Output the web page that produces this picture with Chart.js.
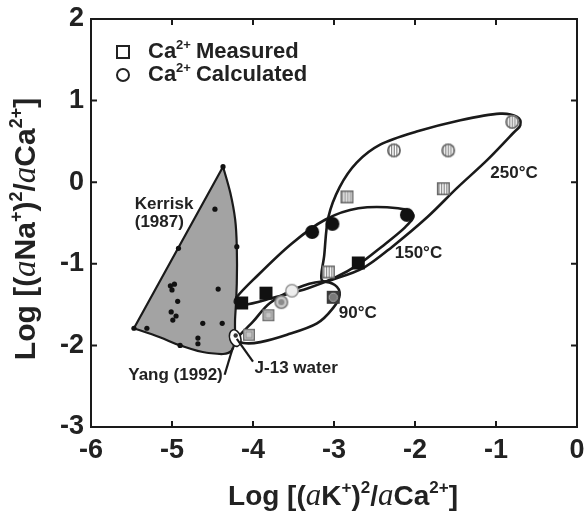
<!DOCTYPE html>
<html><head><meta charset="utf-8">
<script src="https://cdn.jsdelivr.net/npm/chart.js@4"></script>
<style>html,body{margin:0;padding:0;background:#fff}</style>
</head><body>
<canvas id="c" width="587" height="511"></canvas>
<script>
// ---- axis ticks ----
const xTicks = [-6, -5, -4, -3, -2, -1, 0];
const yTicks = [-3, -2, -1, 0, 1, 2];

// ---- measured / calculated points ----
const measured250 = [[-2.84, -0.18], [-1.65, -0.08], [-3.07, -1.10]];
const calculated250 = [[-2.26, 0.39], [-1.59, 0.39], [-0.80, 0.74]];
const measured150 = [[-2.70, -0.99], [-3.84, -1.36], [-4.14, -1.48]];
const calculated150 = [[-3.27, -0.61], [-3.02, -0.51], [-2.10, -0.40]];
const measured90 = [[-3.81, -1.63], [-4.05, -1.87], [-3.01, -1.41]];
const calculated90 = [[-3.65, -1.47], [-3.52, -1.33], [-3.01, -1.41]];

// ---- Kerrisk (1987) field ----
const kerriskBoundary = [[-4.37, 0.19], [-4.28, -0.13], [-4.22, -0.46], [-4.20, -0.79], [-4.20, -1.24],
  [-4.22, -1.65], [-4.26, -2.06], [-4.57, -2.09], [-4.90, -2.00], [-5.15, -1.90], [-5.47, -1.79]];
const kerriskDots = [[-4.37, 0.19], [-4.92, -0.81], [-4.20, -0.79], [-5.47, -1.79], [-4.90, -2.00],
  [-4.47, -0.33], [-4.43, -1.31], [-5.02, -1.27], [-4.97, -1.25], [-5.00, -1.32], [-4.93, -1.46],
  [-5.01, -1.59], [-4.95, -1.64], [-4.99, -1.69], [-4.62, -1.73], [-4.38, -1.73], [-5.31, -1.79],
  [-4.68, -1.91], [-4.68, -1.98]];
const yangPoint = [-4.22, -1.91];

// ---- temperature envelopes ----
const loop250 = [[-3.15, -1.20], [-3.12, -0.89], [-3.07, -0.43], [-2.93, -0.06], [-2.72, 0.24], [-2.43, 0.46],
  [-1.98, 0.62], [-1.44, 0.76], [-0.95, 0.84], [-0.74, 0.80], [-0.70, 0.70], [-0.79, 0.60], [-1.11, 0.27],
  [-1.48, -0.07], [-1.85, -0.43], [-2.28, -0.79], [-2.62, -1.04], [-2.95, -1.17]];
const loop150 = [[-4.22, -1.44], [-3.94, -1.14], [-3.52, -0.75], [-3.11, -0.46], [-2.70, -0.32], [-2.21, -0.32],
  [-2.02, -0.40], [-2.12, -0.55], [-2.41, -0.79], [-2.70, -1.01], [-2.99, -1.17], [-3.32, -1.30],
  [-3.73, -1.41], [-4.10, -1.50]];
const loop90 = [[-4.19, -1.91], [-4.00, -1.71], [-3.79, -1.48], [-3.46, -1.30], [-3.17, -1.22], [-2.99, -1.26],
  [-2.93, -1.38], [-3.01, -1.54], [-3.21, -1.73], [-3.58, -1.87], [-3.91, -1.96], [-4.12, -1.97]];

// ---- annotations ----
const annotations = [
  {text: 'Kerrisk', x: -5.46, y: -0.33},
  {text: '(1987)', x: -5.46, y: -0.55},
  {text: 'Yang (1992)', x: -5.54, y: -2.42},
  {text: 'J-13 water', x: -3.98, y: -2.34},
  {text: '250\u00B0C', x: -1.07, y: 0.05},
  {text: '150\u00B0C', x: -2.25, y: -0.93},
  {text: '90\u00B0C', x: -2.94, y: -1.66}
];
const pointerLines = [[[-4.25, -2.03], [-4.35, -2.36]], [[-4.20, -1.92], [-4.00, -2.20]]];

const SANS = '"Liberation Sans", Arial, Helvetica, sans-serif';
const SERIF = '"Liberation Serif", "Times New Roman", serif';
const INK = '#1a1a1a';

// ---- marker images ----
function mk(size, fn) {
  const c = document.createElement('canvas');
  c.width = size + 2; c.height = size + 2;
  const g = c.getContext('2d');
  fn(g, (size + 2) / 2, size / 2);
  return c;
}
function stripes(g, cx, r) {
  g.fillStyle = '#fff'; g.fillRect(cx - r, cx - r, 2 * r, 2 * r);
  g.fillStyle = '#7a7a7a';
  for (let x = cx - r + 1.5; x < cx + r; x += 2.6) g.fillRect(x, cx - r, 1.1, 2 * r);
}
const hatchSquare = mk(13, (g, c, r) => { stripes(g, c, r); g.strokeStyle = '#666'; g.lineWidth = 1.5; g.strokeRect(c - r + 0.75, c - r + 0.75, 2 * r - 1.5, 2 * r - 1.5); });
const hatchCircle = mk(14, (g, c, r) => { g.save(); g.beginPath(); g.arc(c, c, r, 0, Math.PI * 2); g.clip(); stripes(g, c, r); g.restore();
  g.beginPath(); g.arc(c, c, r - 0.8, 0, Math.PI * 2); g.strokeStyle = '#666'; g.lineWidth = 1.5; g.stroke(); });
const blackSquare = mk(13, (g, c, r) => { g.fillStyle = '#111'; g.fillRect(c - r, c - r, 2 * r, 2 * r); });
const blackCircle = mk(14, (g, c, r) => { g.beginPath(); g.arc(c, c, r, 0, Math.PI * 2); g.fillStyle = '#111'; g.fill(); });
const greySquare = mk(12, (g, c, r) => { g.fillStyle = '#c6c6c6'; g.fillRect(c - r, c - r, 2 * r, 2 * r);
  g.strokeStyle = '#6e6e6e'; g.lineWidth = 1.4; g.strokeRect(c - r + 0.7, c - r + 0.7, 2 * r - 1.4, 2 * r - 1.4);
  g.strokeStyle = '#8f8f8f'; g.lineWidth = 1; g.strokeRect(c - 3, c - 3, 6, 6); });
const darkSquare = mk(13, (g, c, r) => { g.fillStyle = '#3a3a3a'; g.fillRect(c - r, c - r, 2 * r, 2 * r);
  g.beginPath(); g.arc(c, c, 4.2, 0, Math.PI * 2); g.fillStyle = '#7a7a7a'; g.fill(); g.strokeStyle = '#aaa'; g.lineWidth = 1; g.stroke(); });
const greyCircle = mk(14, (g, c, r) => { g.beginPath(); g.arc(c, c, r - 0.8, 0, Math.PI * 2); g.fillStyle = '#c8c8c8'; g.fill();
  g.strokeStyle = '#7c7c7c'; g.lineWidth = 1.6; g.stroke(); g.beginPath(); g.arc(c, c, 3, 0, Math.PI * 2); g.fillStyle = '#8a8a8a'; g.fill(); });
const paleCircle = mk(14, (g, c, r) => { g.beginPath(); g.arc(c, c, r - 0.8, 0, Math.PI * 2); g.fillStyle = '#eeeeee'; g.fill();
  g.strokeStyle = '#9a9a9a'; g.lineWidth = 1.5; g.stroke(); });
const emptyDot = mk(4, () => {});

const toXY = a => a.map(p => ({x: p[0], y: p[1]}));

// ---- drawing helpers ----
function P(chart, p) { return [chart.scales.x.getPixelForValue(p[0]), chart.scales.y.getPixelForValue(p[1])]; }
function closedSpline(ctx, pts) {
  const n = pts.length;
  ctx.moveTo(pts[0][0], pts[0][1]);
  for (let i = 0; i < n; i++) {
    const p0 = pts[(i - 1 + n) % n], p1 = pts[i], p2 = pts[(i + 1) % n], p3 = pts[(i + 2) % n];
    ctx.bezierCurveTo(p1[0] + (p2[0] - p0[0]) / 6, p1[1] + (p2[1] - p0[1]) / 6,
      p2[0] - (p3[0] - p1[0]) / 6, p2[1] - (p3[1] - p1[1]) / 6, p2[0], p2[1]);
  }
  ctx.closePath();
}
function openSpline(ctx, pts) {
  const n = pts.length;
  ctx.moveTo(pts[0][0], pts[0][1]);
  for (let i = 0; i < n - 1; i++) {
    const p0 = pts[Math.max(i - 1, 0)], p1 = pts[i], p2 = pts[i + 1], p3 = pts[Math.min(i + 2, n - 1)];
    ctx.bezierCurveTo(p1[0] + (p2[0] - p0[0]) / 6, p1[1] + (p2[1] - p0[1]) / 6,
      p2[0] - (p3[0] - p1[0]) / 6, p2[1] - (p3[1] - p1[1]) / 6, p2[0], p2[1]);
  }
}
function rich(ctx, parts, x, y, align) {
  let w = 0;
  parts.forEach(p => { ctx.font = p.f; p.w = ctx.measureText(p.t).width; w += p.w + (p.gap || 0); });
  let cx = align === 'center' ? x - w / 2 : x;
  ctx.textBaseline = 'alphabetic'; ctx.textAlign = 'left';
  parts.forEach(p => { ctx.font = p.f; ctx.fillText(p.t, cx, y + (p.dy || 0)); cx += p.w + (p.gap || 0); });
}

const shapes = {
  id: 'shapes',
  beforeDatasetsDraw(chart) {
    const ctx = chart.ctx;
    ctx.save();
    // Kerrisk field
    const kb = kerriskBoundary.map(p => P(chart, p));
    ctx.beginPath(); openSpline(ctx, kb); ctx.lineTo(kb[0][0], kb[0][1]); ctx.closePath();
    ctx.fillStyle = '#a3a3a3'; ctx.fill();
    ctx.lineWidth = 2.2; ctx.strokeStyle = INK; ctx.lineJoin = 'round'; ctx.stroke();
    // envelopes
    [loop250, loop150, loop90].forEach(l => {
      ctx.beginPath(); closedSpline(ctx, l.map(p => P(chart, p)));
      ctx.lineWidth = 2.6; ctx.strokeStyle = INK; ctx.stroke();
    });
    // Yang (1992) ellipse
    const yp = P(chart, yangPoint);
    ctx.beginPath(); ctx.ellipse(yp[0], yp[1], 5.5, 8.5, -0.3, 0, Math.PI * 2);
    ctx.fillStyle = '#fff'; ctx.fill(); ctx.lineWidth = 1.6; ctx.strokeStyle = INK; ctx.stroke();
    ctx.beginPath(); ctx.arc(yp[0] + 0.5, yp[1] - 2.5, 2.2, 0, Math.PI * 2); ctx.fillStyle = '#333'; ctx.fill();
    // pointer lines
    pointerLines.forEach(l => {
      const a = P(chart, l[0]), b = P(chart, l[1]);
      ctx.beginPath(); ctx.moveTo(a[0], a[1]); ctx.lineTo(b[0], b[1]); ctx.lineWidth = 2.2; ctx.stroke();
    });
    ctx.restore();
  },
  afterDraw(chart) {
    const ctx = chart.ctx, a = chart.chartArea;
    const xs = chart.scales.x, ys = chart.scales.y;
    ctx.save();
    ctx.strokeStyle = INK; ctx.lineWidth = 2;
    ctx.strokeRect(a.left, a.top, a.right - a.left, a.bottom - a.top);
    ctx.beginPath();
    xTicks.forEach(v => { const x = xs.getPixelForValue(v); ctx.moveTo(x, a.bottom); ctx.lineTo(x, a.bottom - 6); ctx.moveTo(x, a.top); ctx.lineTo(x, a.top + 6); });
    yTicks.forEach(v => { const y = ys.getPixelForValue(v); ctx.moveTo(a.left, y); ctx.lineTo(a.left + 6, y); ctx.moveTo(a.right, y); ctx.lineTo(a.right - 6, y); });
    ctx.stroke();
    ctx.fillStyle = '#222';
    // annotations
    annotations.forEach(t => { const p = P(chart, [t.x, t.y]); ctx.font = 'bold 17px ' + SANS; ctx.textAlign = 'left'; ctx.textBaseline = 'alphabetic'; ctx.fillText(t.text, p[0], p[1]); });
    // legend
    const lx = a.left + 32, ly1 = a.top + 33, ly2 = a.top + 56;
    ctx.lineWidth = 2; ctx.strokeStyle = '#222';
    ctx.strokeRect(lx - 6, ly1 - 6, 12, 12);
    ctx.beginPath(); ctx.arc(lx, ly2, 6, 0, Math.PI * 2); ctx.stroke();
    const LF = 'bold 22px ' + SANS, LS = 'bold 13px ' + SANS;
    rich(ctx, [{t: 'Ca', f: LF}, {t: '2+', f: LS, dy: -9, gap: 5}, {t: 'Measured', f: LF}], lx + 25, ly1 + 6, 'left');
    rich(ctx, [{t: 'Ca', f: LF}, {t: '2+', f: LS, dy: -9, gap: 5}, {t: 'Calculated', f: LF}], lx + 25, ly2 + 6, 'left');
    // axis titles
    const S = 'bold 28px ' + SANS, I = 'italic 31px ' + SERIF, U = 'bold 17px ' + SANS;
    rich(ctx, [{t: 'Log [(', f: S}, {t: 'a', f: I}, {t: 'K', f: S}, {t: '+', f: U, dy: -12}, {t: ')', f: S},
      {t: '2', f: U, dy: -12}, {t: '/', f: S}, {t: 'a', f: I}, {t: 'Ca', f: S}, {t: '2+', f: U, dy: -12}, {t: ']', f: S}],
      343, 505, 'center');
    const S2 = 'bold 30px ' + SANS, I2 = 'italic 33px ' + SERIF, U2 = 'bold 18px ' + SANS;
    ctx.translate(35, 229); ctx.rotate(-Math.PI / 2);
    rich(ctx, [{t: 'Log [(', f: S2}, {t: 'a', f: I2}, {t: 'Na', f: S2}, {t: '+', f: U2, dy: -13}, {t: ')', f: S2},
      {t: '2', f: U2, dy: -13}, {t: '/', f: S2}, {t: 'a', f: I2}, {t: 'Ca', f: S2}, {t: '2+', f: U2, dy: -13}, {t: ']', f: S2}],
      0, 0, 'center');
    ctx.restore();
  }
};

const tickFont = {family: SANS, size: 27, weight: 'bold'};
new Chart(document.getElementById('c'), {
  type: 'scatter',
  data: {datasets: [
    {label: 'Kerrisk (1987)', data: toXY(kerriskDots), pointStyle: 'circle', pointRadius: 2.6, backgroundColor: '#111', borderWidth: 0},
    {label: 'Ca2+ Measured 250\u00B0C', data: toXY(measured250), pointStyle: hatchSquare},
    {label: 'Ca2+ Calculated 250\u00B0C', data: toXY(calculated250), pointStyle: hatchCircle},
    {label: 'Ca2+ Measured 150\u00B0C', data: toXY(measured150), pointStyle: blackSquare},
    {label: 'Ca2+ Calculated 150\u00B0C', data: toXY(calculated150), pointStyle: blackCircle},
    {label: 'Ca2+ Measured 90\u00B0C', data: toXY(measured90), pointStyle: [greySquare, greySquare, darkSquare]},
    {label: 'Ca2+ Calculated 90\u00B0C', data: toXY(calculated90), pointStyle: [greyCircle, paleCircle, emptyDot]}
  ]},
  options: {
    responsive: false, animation: false, devicePixelRatio: 1, events: [],
    layout: {padding: {top: 19, right: 10, left: 0, bottom: 0}},
    plugins: {legend: {display: false}, tooltip: {enabled: false}},
    scales: {
      x: {type: 'linear', min: -6, max: 0,
        afterFit(s) { s.height = 84; s.paddingLeft = 0; s.paddingRight = 0; },
        afterBuildTicks(s) { s.ticks = xTicks.map(v => ({value: v})); },
        grid: {display: false, drawTicks: false}, border: {display: false},
        ticks: {font: tickFont, color: '#222', padding: 7, maxRotation: 0, autoSkip: false}},
      y: {type: 'linear', min: -3, max: 2,
        afterFit(s) { s.width = 91; s.paddingTop = 0; s.paddingBottom = 0; },
        afterBuildTicks(s) { s.ticks = yTicks.map(v => ({value: v})); },
        grid: {display: false, drawTicks: false}, border: {display: false},
        ticks: {font: tickFont, color: '#222', padding: 7, autoSkip: false}}
    }
  },
  plugins: [shapes]
});
</script>
</body></html>
